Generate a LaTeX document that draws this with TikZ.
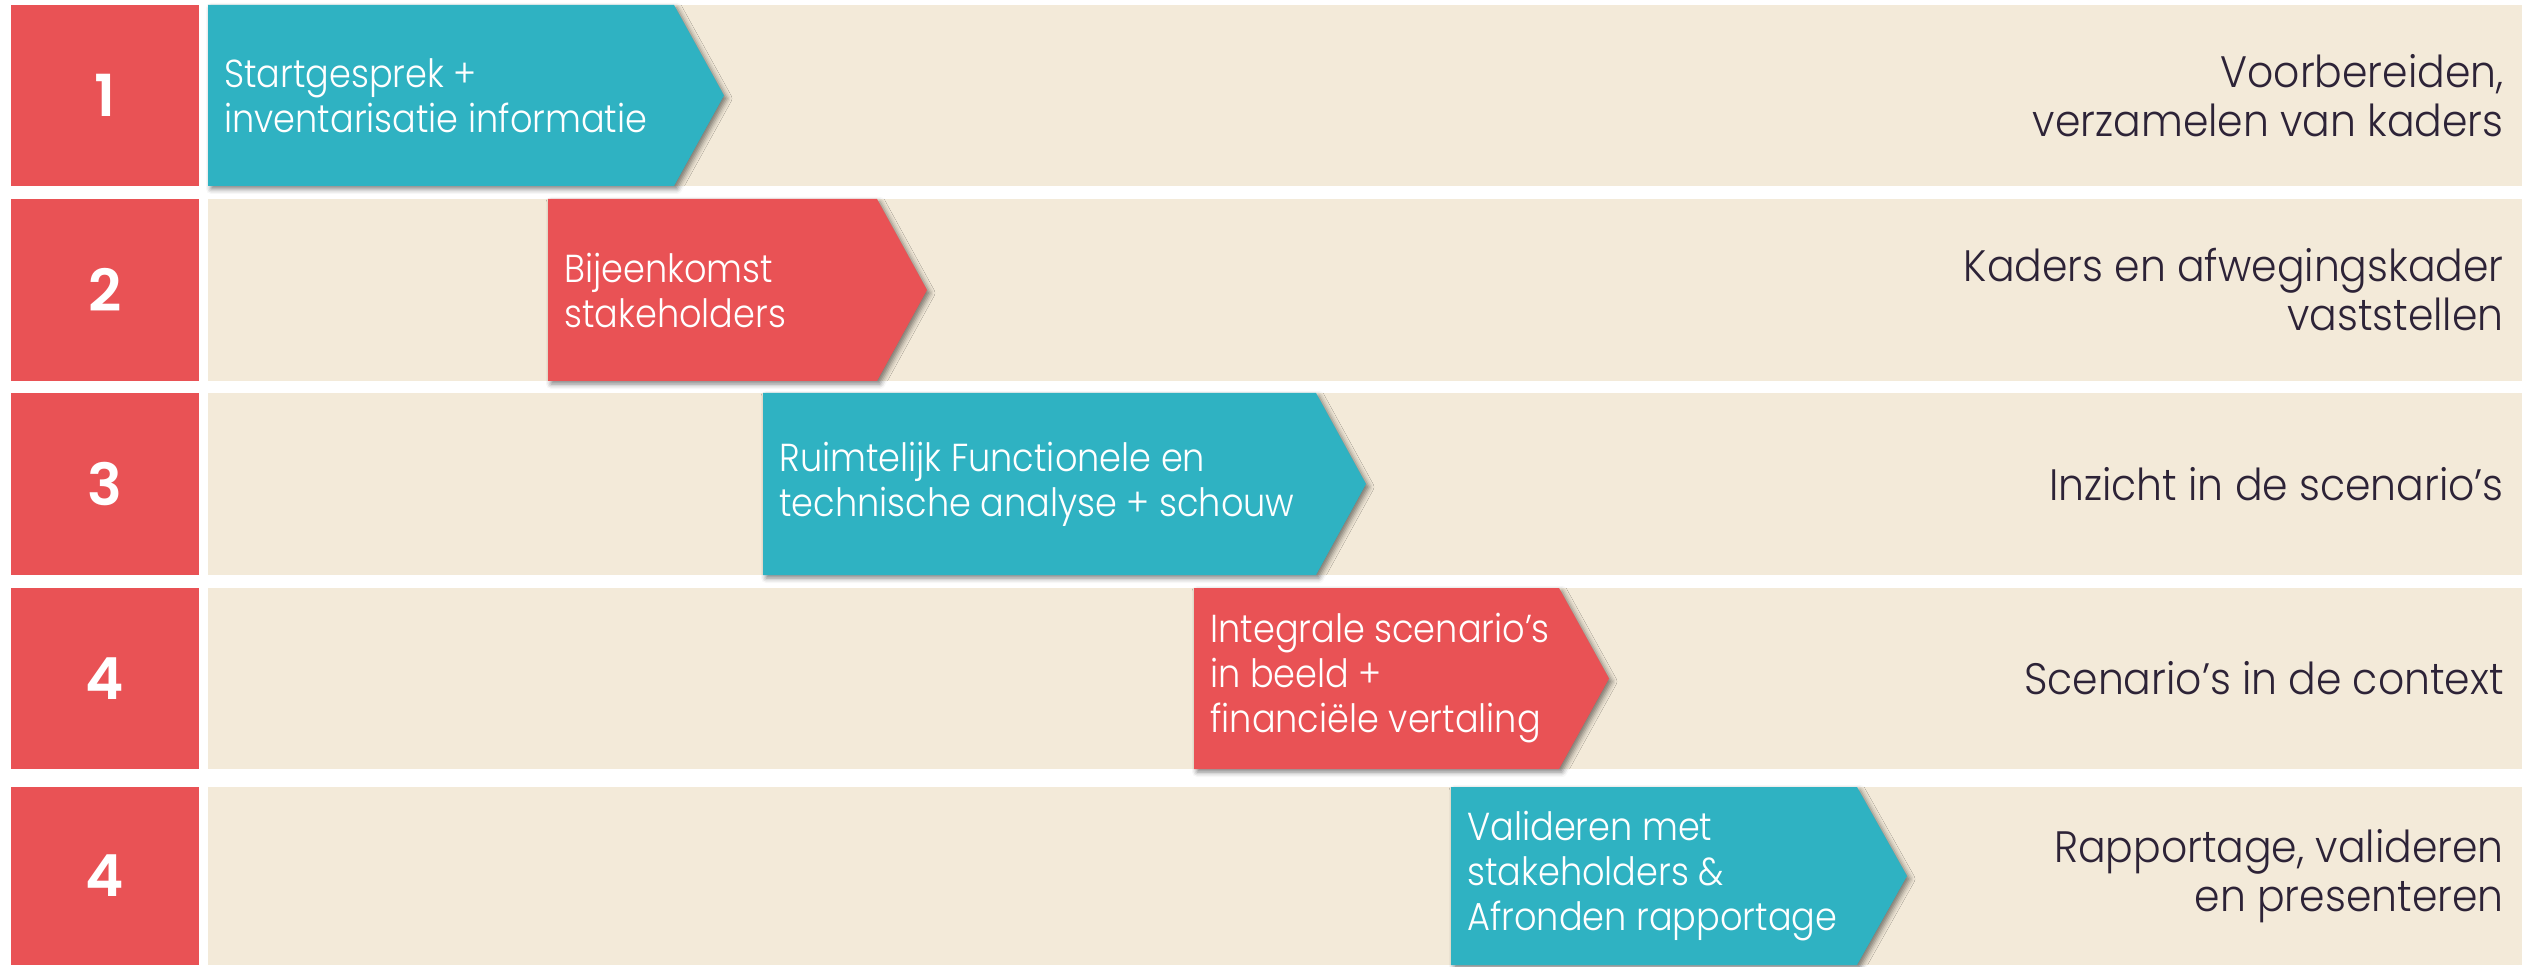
\documentclass[tikz,border=0pt]{standalone}
\usepackage{fontspec}
\setmainfont{Poppins}
\newfontfamily\numfont[UprightFont=* SemiBold]{Poppins}
\newfontfamily\phasefont[FakeStretch=0.9,UprightFont=* Light]{Poppins}
\newfontfamily\goalfont[FakeStretch=0.93,UprightFont=* Light]{Poppins}
\usetikzlibrary{shadows.blur}

\definecolor{rowred}{HTML}{E95255}
\definecolor{rowteal}{HTML}{2FB2C2}
\definecolor{rowbeige}{HTML}{F3EAD9}
\definecolor{goalgray}{HTML}{2D2337}

\begin{document}
\begin{tikzpicture}[
    x=0.5pt,
    y=-0.5pt,
    number node/.style={text=white,inner sep=0pt,font=\numfont\fontsize{29}{32}\selectfont},
    phase arrow/.style={blur shadow={shadow xshift=1.5pt,shadow yshift=-1.5pt,shadow blur radius=2.5pt,shadow opacity=50}},
    phase text/.style={anchor=west,align=left,text=white,inner sep=0pt,font=\phasefont\fontsize{19.5}{22.5}\selectfont},
    goal text/.style={anchor=east,align=right,text=goalgray,inner sep=0pt,font=\goalfont\fontsize{22}{24.5}\selectfont}]

  \useasboundingbox (0,0) rectangle (2535,967);

  \foreach \n/\top/\bot/\col/\xa/\xb/\phase/\goal [count=\i] in {
      1/5/186/rowteal/208/674/{Startgesprek +\\inventarisatie informatie}/{Voorbereiden,\\verzamelen van kaders},
      2/199/381/rowred/548/877/{Bijeenkomst\\stakeholders}/{Kaders en afwegingskader\\vaststellen},
      3/393/575/rowteal/763/1316/{Ruimtelijk Functionele en\\technische analyse + schouw}/{Inzicht in de scenario’s},
      4/588/769/rowred/1194/1559/{Integrale scenario’s\\in beeld +\\financiële vertaling}/{Scenario’s in de context},
      4/787/965/rowteal/1451/1857/{Valideren met\\stakeholders \&\\Afronden rapportage}/{Rapportage, valideren\\en presenteren}} {
    \pgfmathsetmacro\mid{(\top+\bot)/2}
    % number block and beige band
    \fill[rowred] (11,\top) rectangle (199,\bot);
    \fill[rowbeige] (208,\top) rectangle (2522,\bot);
    \node[number node] (num\i) at (105,\mid) {\n};
    % chevron with its activity
    \fill[phase arrow,fill=\col] (\xa,\top) -- (\xb,\top) -- (\xb+50,\mid) -- (\xb,\bot) -- (\xa,\bot) -- cycle;
    \node[phase text] (phase\i) at (\xa+16,\mid) {\phase};
    % result on the right
    \node[goal text] (goal\i) at (2504,\mid) {\goal};
  }
\end{tikzpicture}
\end{document}
